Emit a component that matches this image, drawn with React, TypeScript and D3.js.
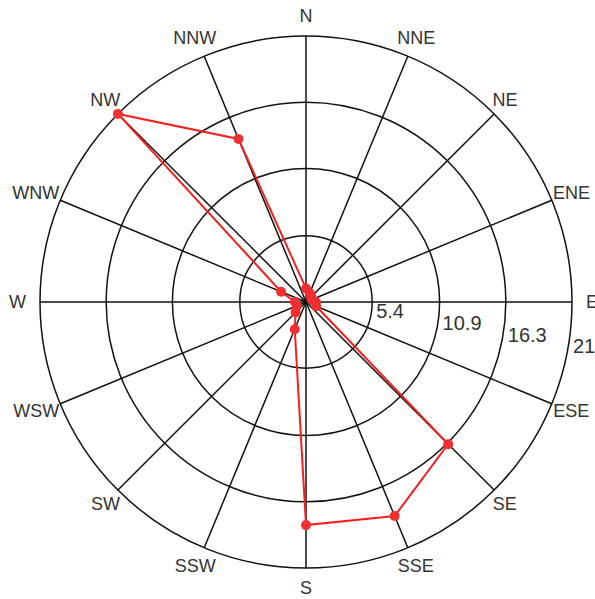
import React from "react";
import * as d3 from "d3";

const directions = ["N","NNE","NE","ENE","E","ESE","SE","SSE","S","SSW","SW","WSW","W","WNW","NW","NNW"];
const values = [1.1, 0.8, 0.6, 0.5, 0.8, 0.9, 16.4, 18.9, 18.2, 2.4, 1.2, 0.8, 0.9, 2.2, 21.7, 14.4];
const ringValues = [5.4, 10.9, 16.3, 21.7];
const ringLabels = ["5.4", "10.9", "16.3", "21.7"];
const maxValue = 21.7;

const W = 595, H = 599;
const cx = 306, cy = 302, R = 266;
const labelFont = 18;
const tickFont = 20;

const charW: Record<string, number> = { N: 0.722, E: 0.667, S: 0.667, W: 0.944 };
const textWidth = (s: string) => s.split("").reduce((a, c) => a + (charW[c] || 0.6), 0) * labelFont;

export default function App() {
  const r = d3.scaleLinear().domain([0, maxValue]).range([0, R]);
  const angle = d3.scaleLinear().domain([0, directions.length]).range([0, 2 * Math.PI]);
  const pt = (i: number, rad: number): [number, number] => {
    const a = angle(i);
    return [cx + rad * Math.sin(a), cy - rad * Math.cos(a)];
  };
  const line = d3
    .lineRadial<number>()
    .angle((_, i) => angle(i))
    .radius((d) => r(d))
    .curve(d3.curveLinearClosed);
  const tickAngle = (10 * Math.PI) / 180;

  return (
    <svg width={W} height={H} style={{ position: "absolute", left: 0, top: 0, background: "#fff" }}
      fontFamily="'Liberation Sans', Arial, sans-serif">
      <rect width={W} height={H} fill="#fff" />
      {ringValues.map((v, i) => (
        <circle key={"c" + i} cx={cx} cy={cy} r={r(v)} fill="none" stroke="#111" strokeWidth={1.5} />
      ))}
      {directions.map((d, i) => {
        const [x, y] = pt(i, R);
        return <line key={"s" + i} x1={cx} y1={cy} x2={x} y2={y} stroke="#111" strokeWidth={1.5} />;
      })}
      {directions.map((d, i) => {
        const a = angle(i);
        const [x, y] = pt(i, R);
        const w = textWidth(d);
        const s = Math.sin(a);
        const extra = Math.abs(s) > 0.99 ? 11 : 0;
        const tx = x + (w / 2 + 3 + extra) * s;
        const ty = y - 20 * Math.cos(a);
        return (
          <text key={"l" + i} x={tx} y={ty} textAnchor="middle" dominantBaseline="central"
            fontSize={labelFont} fill="#333">{d}</text>
        );
      })}
      {ringValues.map((v, i) => (
        <text key={"t" + i} x={cx + r(v) * Math.cos(tickAngle) + 5} y={cy + r(v) * Math.sin(tickAngle) - 2}
          dominantBaseline="central" fontSize={tickFont} fill="#333">{ringLabels[i]}</text>
      ))}
      <g transform={`translate(${cx},${cy})`}>
        <path d={line(values) || ""} fill="none" stroke="#f42020" strokeWidth={2} />
      </g>
      {values.map((v, i) => {
        const [x, y] = pt(i, r(v));
        return <circle key={"p" + i} cx={x} cy={y} r={5} fill="#f03030" />;
      })}
    </svg>
  );
}
